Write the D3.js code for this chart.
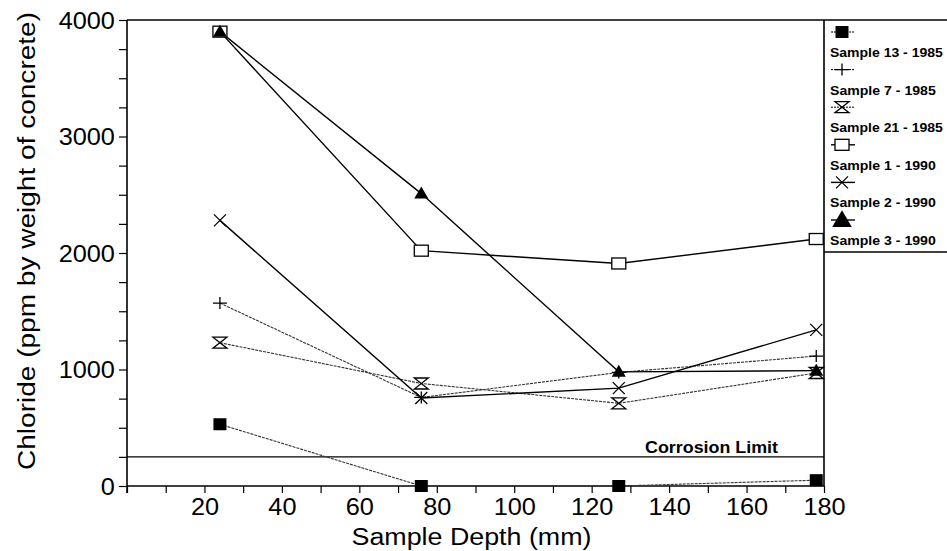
<!DOCTYPE html>
<html>
<head>
<meta charset="utf-8">
<script src="https://cdn.jsdelivr.net/npm/d3@7"></script>
<style>
  body { margin: 0; background: #fff; }
  svg { display: block; font-family: "Liberation Sans", Arial, sans-serif; }
</style>
</head>
<body>
<div id="chart"></div>
<script>
const depths = [24, 76, 127, 178];

const sample13 = [530, 0, 0, 50];
const sample7 = [1570, 760, 975, 1115];
const sample21 = [1230, 880, 710, 970];
const sample1 = [3900, 2020, 1910, 2120];
const sample2 = [2280, 755, 840, 1340];
const sample3 = [3900, 2510, 980, 990];

const seriesNames = ["Sample 13 - 1985", "Sample 7 - 1985", "Sample 21 - 1985",
    "Sample 1 - 1990", "Sample 2 - 1990", "Sample 3 - 1990"];
const seriesSymbols = ["filledSquare", "plus", "hourglass", "square", "x", "triangle"];
const seriesValues = [sample13, sample7, sample21, sample1, sample2, sample3];

const corrosionLimit = 250;
const xTicks = d3.range(0, 181, 10);
const yTicks = d3.range(0, 4001, 250);

const width = 947, height = 551;

const series = seriesNames.map((name, i) => ({
    name: name,
    symbol: seriesSymbols[i],
    dotted: name.endsWith("1985"),
    points: depths.map((d, j) => ({ x: d, y: seriesValues[i][j] }))
}));

const x = d3.scaleLinear().domain([0, 180]).range([127, 824]);
const y = d3.scaleLinear().domain([0, 4000]).range([486, 20]);

const svg = d3.select("#chart")
    .append("svg")
    .attr("width", width)
    .attr("height", height);

// frame: top line runs on across the legend, right edge of plot
svg.append("line")
    .attr("x1", x(0)).attr("x2", width)
    .attr("y1", y(4000)).attr("y2", y(4000))
    .attr("stroke", "#000").attr("stroke-width", 1.6);
svg.append("line")
    .attr("x1", x(180)).attr("x2", x(180))
    .attr("y1", y(4000)).attr("y2", y(0))
    .attr("stroke", "#000").attr("stroke-width", 1.6);

// axes
const xAxis = svg.append("g")
    .attr("transform", `translate(0,${y(0)})`)
    .call(d3.axisBottom(x)
        .tickValues(xTicks)
        .tickSize(7)
        .tickPadding(6)
        .tickFormat(d => (d > 0 && d % 20 === 0) ? d : ""));

const yAxis = svg.append("g")
    .attr("transform", `translate(${x(0)},0)`)
    .call(d3.axisLeft(y)
        .tickValues(yTicks)
        .tickSize(8)
        .tickPadding(3)
        .tickFormat(d => d % 1000 === 0 ? d : ""));

[xAxis, yAxis].forEach(a => {
    a.attr("font-family", null).attr("font-size", null);
    a.select(".domain").attr("stroke-width", 1.6);
    a.selectAll(".tick line").attr("stroke-width", 1.2);
    a.selectAll(".tick text")
        .attr("fill", "#000")
        .attr("transform", "scale(1.1,1)")
        .style("font-size", "23px");
});
xAxis.select(".domain").attr("d", `M${x(0)},0H${x(180)}`);
yAxis.select(".domain").attr("d", `M0,${y(0) + 7}V${y(4000)}`);
yAxis.selectAll(".tick text").attr("dy", "0.36em");

// axis titles
svg.append("text")
    .attr("x", (x(0) + x(180)) / 2 - 4)
    .attr("y", 545)
    .attr("text-anchor", "middle")
    .attr("textLength", 240)
    .attr("lengthAdjust", "spacingAndGlyphs")
    .style("font-size", "23px")
    .text("Sample Depth (mm)");

svg.append("text")
    .attr("transform", `translate(35,241) rotate(-90)`)
    .attr("text-anchor", "middle")
    .attr("textLength", 458)
    .attr("lengthAdjust", "spacingAndGlyphs")
    .style("font-size", "23px")
    .text("Chloride (ppm by weight of concrete)");

// corrosion limit
svg.append("line")
    .attr("x1", x(0)).attr("x2", x(180))
    .attr("y1", y(corrosionLimit)).attr("y2", y(corrosionLimit))
    .attr("stroke", "#000").attr("stroke-width", 1.3);
svg.append("text")
    .attr("x", 778)
    .attr("y", y(corrosionLimit) - 4)
    .attr("text-anchor", "end")
    .attr("font-weight", "bold")
    .attr("textLength", 133)
    .attr("lengthAdjust", "spacingAndGlyphs")
    .style("font-size", "16px")
    .text("Corrosion Limit");

function drawMarker(g, type, scale = 1) {
    const s = scale;
    switch (type) {
        case "filledSquare":
            g.append("rect").attr("x", -6.5 * s).attr("y", -6 * s)
                .attr("width", 13 * s).attr("height", 12 * s).attr("fill", "#000");
            break;
        case "plus":
            g.append("path").attr("d", `M${-7 * s},0H${7 * s}M0,${-6 * s}V${6 * s}`)
                .attr("stroke", "#000").attr("stroke-width", 1.3).attr("fill", "none");
            break;
        case "hourglass":
            g.append("path")
                .attr("d", `M${-7 * s},${-5.5 * s}H${7 * s}L${-7 * s},${5.5 * s}H${7 * s}Z`)
                .attr("stroke", "#000").attr("stroke-width", 1.3).attr("fill", "#fff");
            break;
        case "square":
            g.append("rect").attr("x", -7 * s).attr("y", -5.5 * s)
                .attr("width", 14 * s).attr("height", 11 * s)
                .attr("fill", "#fff").attr("stroke", "#000").attr("stroke-width", 1.3);
            break;
        case "x":
            g.append("path")
                .attr("d", `M${-6 * s},${-6 * s}L${6 * s},${6 * s}M${-6 * s},${6 * s}L${6 * s},${-6 * s}`)
                .attr("stroke", "#000").attr("stroke-width", 1.3).attr("fill", "none");
            break;
        case "triangle":
            g.append("path")
                .attr("d", `M0,${-7 * s}L${7 * s},${5 * s}L${-7 * s},${5 * s}Z`)
                .attr("fill", "#000");
            break;
    }
}

const line = d3.line().x(d => x(d.x)).y(d => y(d.y));

// series lines
svg.append("g")
    .selectAll("path")
    .data(series)
    .join("path")
    .attr("d", d => line(d.points))
    .attr("fill", "none")
    .attr("stroke", d => d.dotted ? "#333" : "#000")
    .attr("stroke-width", d => d.dotted ? 1.1 : 1.4)
    .attr("stroke-dasharray", d => d.dotted ? "3,1" : null);

// series markers
series.forEach(s => {
    svg.append("g")
        .selectAll("g")
        .data(s.points)
        .join("g")
        .attr("transform", d => `translate(${x(d.x)},${y(d.y)})`)
        .each(function () { drawMarker(d3.select(this), s.symbol); });
});

// legend
const legendLeft = x(180);
const legendRow = d3.scaleLinear().domain([0, 1]).range([32, 69.6]);

svg.append("line")
    .attr("x1", legendLeft).attr("x2", width)
    .attr("y1", 252).attr("y2", 252)
    .attr("stroke", "#000").attr("stroke-width", 1.6);

const legend = svg.append("g")
    .selectAll("g")
    .data(series)
    .join("g")
    .attr("transform", (d, i) => `translate(${legendLeft + 18},${legendRow(i)})`);

legend.append("line")
    .attr("x1", -11).attr("x2", 13)
    .attr("stroke", "#000")
    .attr("stroke-width", d => d.dotted ? 1 : 1.4)
    .attr("stroke-dasharray", d => d.dotted ? "2,1" : null);

legend.each(function (d) {
    const g = d3.select(this).append("g");
    drawMarker(g, d.symbol, d.symbol === "triangle" ? 1.4 : 1);
});

legend.append("text")
    .attr("x", -12)
    .attr("y", 25)
    .attr("font-weight", "bold")
    .attr("textLength", d => d.name.length * 7.05)
    .attr("lengthAdjust", "spacingAndGlyphs")
    .style("font-size", "13px")
    .text(d => d.name);
</script>
</body>
</html>
